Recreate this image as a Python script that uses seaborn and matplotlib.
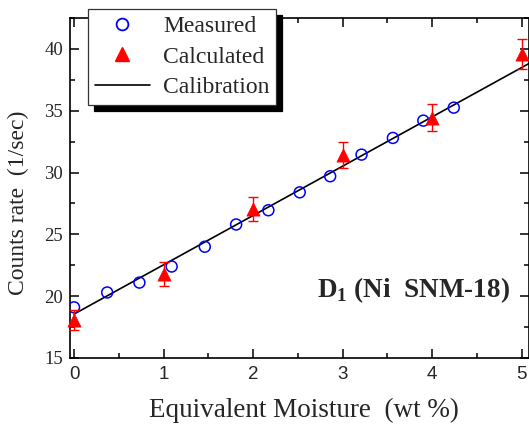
import numpy as np
import pandas as pd
import matplotlib
matplotlib.use("Agg")
import matplotlib.pyplot as plt
from matplotlib.lines import Line2D
from matplotlib.patches import Shadow
from matplotlib.ticker import MultipleLocator
import seaborn as sns

# Measured count rates vs equivalent moisture
measured_x = [0.0, 0.37, 0.73, 1.09, 1.46, 1.81, 2.17, 2.52, 2.86, 3.21, 3.56, 3.90, 4.24]
measured_y = [19.1, 20.3, 21.1, 22.4, 24.0, 25.8, 26.95, 28.4, 29.7, 31.45, 32.8, 34.2, 35.25]

# Calculated count rates with their uncertainties
calc_x = [0, 1, 2, 3, 4, 5]
calc_y = [18.05, 21.8, 27.05, 31.4, 34.45, 39.6]
calc_err = [0.8, 1.0, 0.95, 1.05, 1.1, 1.2]

# Linear calibration: rate = intercept + slope * moisture
cal_intercept = 18.55
cal_slope = 3.99
cal_range = [0.0, 5.1]

sns.set_theme(style="ticks")
plt.rcParams["font.family"] = ["Liberation Serif", "DejaVu Serif"]
plt.rcParams["mathtext.fontset"] = "custom"
plt.rcParams["mathtext.bf"] = "Liberation Serif:bold"
plt.rcParams["mathtext.rm"] = "Liberation Serif"

fig = plt.figure(figsize=(5.29, 4.25), dpi=100)
ax = fig.add_axes([70 / 529, 1 - 358 / 425, 459 / 529, 340 / 425])

cal = pd.DataFrame({"x": cal_range})
cal["y"] = cal_intercept + cal_slope * cal["x"]
sns.lineplot(data=cal, x="x", y="y", color="black", linewidth=1.2, ax=ax, zorder=2)

meas = pd.DataFrame({"x": measured_x, "y": measured_y})
sns.scatterplot(data=meas, x="x", y="y", marker="o", s=62, ax=ax, zorder=3,
                facecolor="none", edgecolor="#0000ff", linewidth=1.1)
for coll in ax.collections:
    coll.set_facecolor("none")
    coll.set_edgecolor("#0000ff")

calc = pd.DataFrame({"x": calc_x, "y": calc_y, "err": calc_err})
ax.errorbar(calc["x"], calc["y"], yerr=calc["err"], fmt="none", ecolor="red",
            elinewidth=1.0, capsize=3.5, capthick=1.0, zorder=4, clip_on=False)
sns.scatterplot(data=calc, x="x", y="y", marker="^", s=90, color="red",
                edgecolor="red", linewidth=0.5, ax=ax, zorder=5, clip_on=False)

ax.set_xlim(-0.045, 5.08)
ax.set_ylim(15, 42.5)
ax.xaxis.set_major_locator(MultipleLocator(1))
ax.xaxis.set_minor_locator(MultipleLocator(0.5))
ax.yaxis.set_major_locator(MultipleLocator(5))
ax.yaxis.set_minor_locator(MultipleLocator(2.5))
ax.tick_params(which="both", direction="in", top=True, right=True, width=1.1, color="black")
ax.tick_params(which="major", length=6.5)
ax.tick_params(which="minor", length=3.5)
ax.tick_params(axis="x", pad=6, labelsize=13.5)
ax.tick_params(axis="y", pad=5, labelsize=13.5)
for lab in ax.get_xticklabels():
    lab.set_family(["Liberation Sans", "DejaVu Sans"])
for lab in ax.get_yticklabels():
    lab.set_family(["Liberation Serif", "DejaVu Serif"])
for sp in ax.spines.values():
    sp.set_visible(True)
    sp.set_linewidth(1.2)
    sp.set_color("black")

ax.set_xlabel("Equivalent Moisture  (wt %)", fontsize=19.5, va="center")
ax.set_ylabel("Counts rate  (1/sec)", fontsize=17, va="center")
ax.xaxis.set_label_coords(0.51, -0.153)
ax.yaxis.set_label_coords(-0.113, 0.456)

ax.text(2.71, 19.9, r"D$_\mathbf{1}$ (Ni  SNM-18)", fontsize=19.5, fontweight="bold",
        ha="left", va="baseline")

handles = [
    Line2D([], [], linestyle="none", marker="o", markersize=8.5, markerfacecolor="none",
           markeredgecolor="#0000ff", markeredgewidth=1.3),
    Line2D([], [], linestyle="none", marker="^", markersize=9.5, color="red"),
    Line2D([], [], color="black", linewidth=1.2),
]
leg = ax.legend(handles, ["Measured", "Calculated", "Calibration"],
                loc="upper left", bbox_to_anchor=(88 / 529, 1 - 9 / 425),
                bbox_transform=fig.transFigure, borderaxespad=0, fontsize=17,
                frameon=True, fancybox=False, framealpha=1, edgecolor="#333333",
                handlelength=2.35, handletextpad=0.55, borderpad=0.28,
                labelspacing=0.38)
leg.get_frame().set_linewidth(0.9)
leg.set_zorder(10)

fig.canvas.draw()
shadow = Shadow(leg.get_frame(), 4.5, -4.5, color="black", alpha=1, zorder=9)
shadow.set_clip_on(False)
ax.add_artist(shadow)

fig.savefig("out.png", dpi=100)
